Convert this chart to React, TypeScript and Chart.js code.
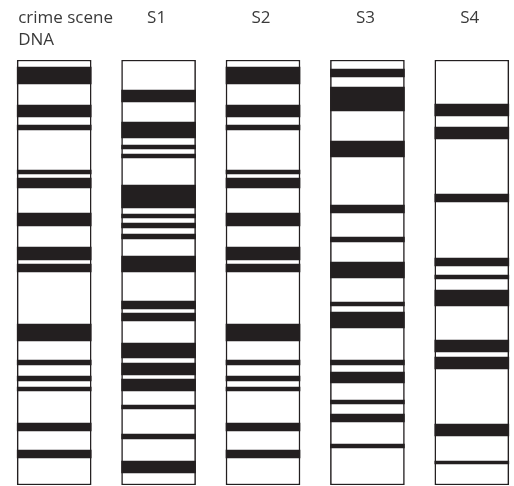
import React, { useEffect, useRef } from "react";
import { Chart, registerables } from "chart.js";

Chart.register(...registerables);

// Lane labels (first one is two lines)
const laneLabels: string[][] = [["crime scene", "DNA"], ["S1"], ["S2"], ["S3"], ["S4"]];

// Total migration distance of each lane (units from well)
const laneLength = 425;

// Band positions [start, end] measured from the well, per lane
const crimeScene: [number, number][] = [
  [7, 24], [45, 57], [65, 70], [110, 114], [118, 128], [153, 166], [187, 200],
  [204, 212], [264, 281], [300, 305], [316, 321], [327, 331], [363, 371], [390, 398],
];
const s1: [number, number][] = [
  [30, 42], [62, 78], [85, 89], [94, 98], [125, 148], [154, 158], [163, 168],
  [174, 179], [196, 212], [241, 249], [253, 261], [283, 298], [303, 315],
  [319, 331], [345, 349], [374, 379], [401, 413],
];
const s2: [number, number][] = [
  [7, 24], [45, 57], [65, 70], [110, 114], [118, 128], [153, 166], [187, 200],
  [204, 212], [264, 281], [300, 305], [316, 321], [327, 331], [363, 371], [390, 398],
];
const s3: [number, number][] = [
  [9, 17], [27, 51], [81, 97], [145, 153], [177, 182], [202, 218], [242, 246],
  [252, 268], [300, 305], [312, 323], [340, 344], [354, 362], [384, 388],
];
const s4: [number, number][] = [
  [44, 56], [67, 79], [134, 142], [198, 206], [215, 219], [230, 246],
  [280, 292], [297, 309], [364, 376], [401, 404],
];

const lanes = [crimeScene, s1, s2, s3, s4];
const INK = "#231f20";

export default function App() {
  const ref = useRef<HTMLCanvasElement | null>(null);

  useEffect(() => {
    if (!ref.current) return;

    const laneData = lanes.map((_, i) => ({ x: i, y: [0, laneLength] }));
    const bandData: { x: number; y: number[] }[] = [];
    lanes.forEach((bands, i) => {
      bands.forEach((b) => bandData.push({ x: i, y: [b[0], b[1]] }));
    });

    const labelPlugin = {
      id: "laneLabels",
      afterDraw(chart: any) {
        const ctx = chart.ctx;
        const xs = chart.scales.x;
        ctx.save();
        ctx.fillStyle = "#3a3a3a";
        ctx.font = '17px "Open Sans"';
        ctx.textBaseline = "alphabetic";
        laneLabels.forEach((lines, i) => {
          const cx = xs.getPixelForValue(i);
          lines.forEach((t, j) => {
            if (i === 0) {
              ctx.textAlign = "left";
              ctx.fillText(t, cx - 36, 23 + j * 22);
            } else {
              ctx.textAlign = "center";
              ctx.fillText(t, cx - 2, 23 + j * 22);
            }
          });
        });
        ctx.restore();
      },
    };

    const chart = new Chart(ref.current, {
      type: "bar",
      data: {
        datasets: [
          {
            label: "bands",
            data: bandData as any,
            backgroundColor: INK,
            borderWidth: 0,
            grouped: false,
            order: 1,
          } as any,
          {
            label: "lanes",
            data: laneData as any,
            backgroundColor: "#ffffff",
            borderColor: INK,
            borderWidth: 1.5,
            borderSkipped: false,
            grouped: false,
            order: 2,
          } as any,
        ],
      },
      options: {
        animation: false,
        responsive: false,
        maintainAspectRatio: false,
        devicePixelRatio: 1,
        layout: { padding: { top: 60, bottom: 1, left: 0, right: 0 } },
        datasets: { bar: { barThickness: 74 } as any },
        plugins: {
          legend: { display: false },
          tooltip: { enabled: false },
        },
        scales: {
          x: {
            type: "linear",
            display: false,
            min: -0.519,
            max: 4.404,
            offset: false,
            grid: { display: false },
          },
          y: {
            type: "linear",
            display: false,
            min: 0,
            max: laneLength,
            reverse: true,
            grid: { display: false },
          },
        },
      },
      plugins: [labelPlugin],
    });

    return () => chart.destroy();
  }, []);

  return (
    <div style={{ position: "fixed", left: 0, top: 0, width: 514, height: 486, background: "#fff" }}>
      <canvas ref={ref} width={514} height={486} style={{ width: 514, height: 486, display: "block" }} />
    </div>
  );
}
